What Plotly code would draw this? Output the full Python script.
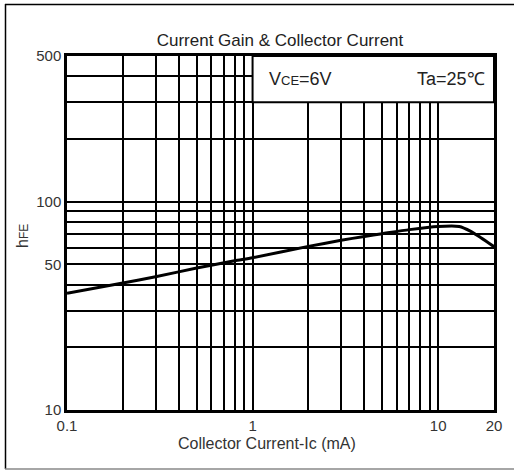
import plotly.graph_objects as go

# Data
ic_ma = [0.1, 0.2, 0.3, 0.5, 0.8, 1, 2, 3, 4, 5, 7, 10, 13, 15, 17, 20]
hfe = [36.3, 40.7, 43.6, 48.0, 52.0, 53.8, 61.0, 65.2, 68.1, 70.2, 73.4, 76.0, 76.0, 72.0, 67.1, 60.8]

x_grid = [0.1, 0.2, 0.3, 0.4, 0.5, 0.6, 0.7, 0.8, 0.9, 1, 2, 3, 4, 5, 6, 7, 8, 9, 10, 20]
x_labels = {0.1: "0.1", 1: "1", 10: "10", 20: "20"}
y_grid = [10, 20, 30, 40, 50, 60, 70, 80, 90, 100, 200, 300, 400, 500]
y_labels = {10: "10", 50: "50", 100: "100", 500: "500"}

# condition-text box (grid-free region): x from 1 to 20 mA, hFE from 300 to 500
box_x = [1, 20]
box_y = [300, 500]

FONT = "Liberation Sans, Arial, sans-serif"
W, H = 514, 471
L, R, T, B = 67, 20, 56, 61

fig = go.Figure()
fig.add_trace(go.Scatter(
    x=ic_ma, y=hfe, mode="lines",
    line=dict(color="black", width=3, shape="spline", smoothing=0.6),
    showlegend=False, hoverinfo="skip",
))

fig.update_layout(
    width=W, height=H,
    margin=dict(l=L, r=R, t=T, b=B),
    paper_bgcolor="white", plot_bgcolor="white",
    font=dict(family=FONT, color="#333", size=15),
    title=dict(text="Current Gain & Collector Current", x=280 / W, xref="container",
               y=(H - 40) / H, yref="container", xanchor="center", yanchor="middle",
               font=dict(size=17, color="#222", family=FONT)),
    showlegend=False,
)

fig.update_xaxes(
    type="log", range=[-1, 1.30103],
    tickvals=x_grid, ticktext=[x_labels.get(v, "") for v in x_grid],
    showgrid=True, gridcolor="black", gridwidth=1.6,
    showline=True, linecolor="black", linewidth=2.5, mirror=True,
    ticks="", zeroline=False, tickfont=dict(size=15, color="#333"),
)
fig.update_yaxes(
    type="log", range=[1, 2.69897],
    tickvals=y_grid, ticktext=[y_labels.get(v, "") for v in y_grid],
    showgrid=True, gridcolor="black", gridwidth=1.6,
    showline=True, linecolor="black", linewidth=2.5, mirror=True,
    ticks="", zeroline=False, tickfont=dict(size=15, color="#333"),
)

fig.add_shape(type="rect", xref="x", yref="y", x0=box_x[0], x1=box_x[1], y0=box_y[0], y1=box_y[1],
              fillcolor="white", line=dict(color="black", width=2), layer="above")

pw, ph = W - L - R, H - T - B
def px(xp):
    return (xp - L) / pw
def py(yp):
    return (H - B - yp) / ph

fig.add_annotation(text="V<span style='font-size:13px'>CE</span>=6V", xref="paper", yref="paper",
                   x=px(267), y=py(79), xanchor="left", yanchor="middle", showarrow=False,
                   font=dict(size=18, color="#222", family=FONT))
fig.add_annotation(text="Ta=25℃", xref="paper", yref="paper",
                   x=px(487), y=py(79), xanchor="right", yanchor="middle", showarrow=False,
                   font=dict(size=18, color="#222", family=FONT))
fig.add_annotation(text="Collector Current-Ic (mA)", xref="paper", yref="paper",
                   x=px(267), y=py(443), xanchor="center", yanchor="middle", showarrow=False,
                   font=dict(size=16, color="#333", family=FONT))
fig.add_annotation(text="h<span style='font-size:12px'>FE</span>", xref="paper", yref="paper",
                   x=px(22), y=py(236), xanchor="center", yanchor="middle", showarrow=False,
                   textangle=-90, font=dict(size=16, color="#333", family=FONT))

# outer frame of the figure
fig.add_shape(type="line", xref="paper", yref="paper", x0=px(5), x1=px(516), y0=py(4.5), y1=py(4.5),
              line=dict(color="black", width=1.5))
fig.add_shape(type="line", xref="paper", yref="paper", x0=px(5.5), x1=px(5.5), y0=py(4), y1=py(469),
              line=dict(color="black", width=1.5))
fig.add_shape(type="line", xref="paper", yref="paper", x0=px(5), x1=px(516), y0=py(469), y1=py(469),
              line=dict(color="#888", width=1.5))

fig.write_html("out.html", config={"displayModeBar": False},
               post_script="document.body.style.margin='0';document.body.style.overflow='hidden';")
